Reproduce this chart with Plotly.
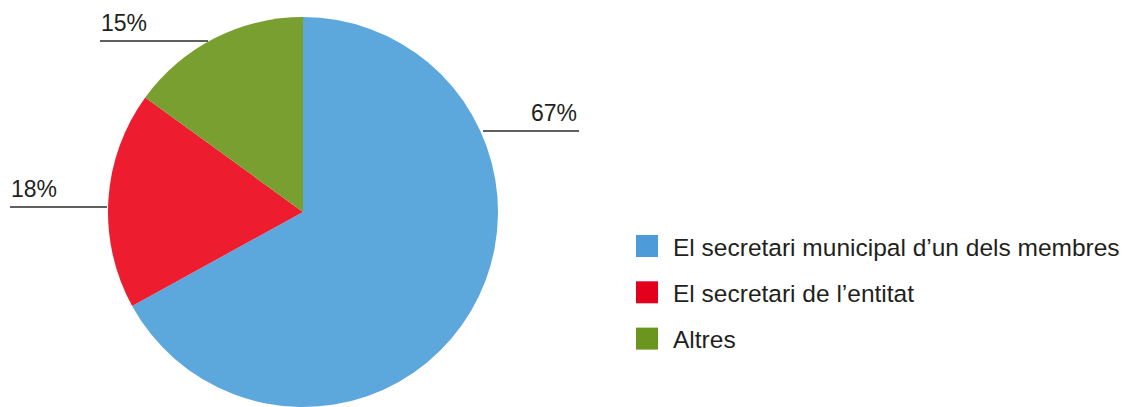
import plotly.graph_objects as go

# Distribution of who acts as secretary of the entity
labels = [
    "El secretari municipal d\u2019un dels membres",
    "El secretari de l\u2019entitat",
    "Altres",
]
values = [67, 18, 15]
slice_colors = ["#5CA8DC", "#ED1C2E", "#789F2F"]
legend_colors = ["#4E9BD9", "#E2001C", "#6A961F"]

W, H = 1130, 407
TEXT = "#231F20"
FONT = "Liberation Sans, Arial, Helvetica, sans-serif"


def px(x):
    return x / W


def py(y):
    return 1 - y / H


fig = go.Figure(
    go.Pie(
        labels=labels,
        values=values,
        marker=dict(colors=slice_colors, line=dict(width=0)),
        sort=False,
        direction="clockwise",
        rotation=0,
        textinfo="none",
        hoverinfo="label+percent",
        showlegend=False,
        domain=dict(x=[px(108), px(498)], y=[0, py(17)]),
    )
)

# Leader lines and value labels: (line x0, line x1, line y, text side)
callouts = [
    (483, 579, 131, "right"),
    (10, 107, 207, "left"),
    (100, 208, 41, "left"),
]

shapes = []
annotations = []
for v, (x0, x1, ly, side) in zip(values, callouts):
    shapes.append(
        dict(
            type="line",
            xref="paper",
            yref="paper",
            x0=px(x0),
            x1=px(x1),
            y0=py(ly),
            y1=py(ly),
            line=dict(color="#2B2B2B", width=1.5),
        )
    )
    annotations.append(
        dict(
            text=f"{v}%",
            xref="paper",
            yref="paper",
            x=px(x1) if side == "right" else px(x0 - 1),
            xanchor=side,
            y=py(ly - 18.5),
            yanchor="middle",
            showarrow=False,
            font=dict(size=23, color=TEXT, family=FONT),
        )
    )

# Legend drawn as square swatches with labels
leg_x, leg_y0, leg_step, sw = 636, 235, 46.3, 22
for i, (lab, col) in enumerate(zip(labels, legend_colors)):
    top = leg_y0 + i * leg_step
    shapes.append(
        dict(
            type="rect",
            xref="paper",
            yref="paper",
            x0=px(leg_x),
            x1=px(leg_x + sw),
            y0=py(top),
            y1=py(top + sw),
            fillcolor=col,
            line=dict(width=0),
        )
    )
    annotations.append(
        dict(
            text=lab,
            xref="paper",
            yref="paper",
            x=px(671),
            xanchor="left",
            y=py(top + sw / 2 + 1),
            yanchor="middle",
            showarrow=False,
            font=dict(size=24.5, color=TEXT, family=FONT),
        )
    )

fig.update_layout(
    width=W,
    height=H,
    margin=dict(l=0, r=0, t=0, b=0),
    paper_bgcolor="white",
    plot_bgcolor="white",
    shapes=shapes,
    annotations=annotations,
)

fig.write_html("out.html")
